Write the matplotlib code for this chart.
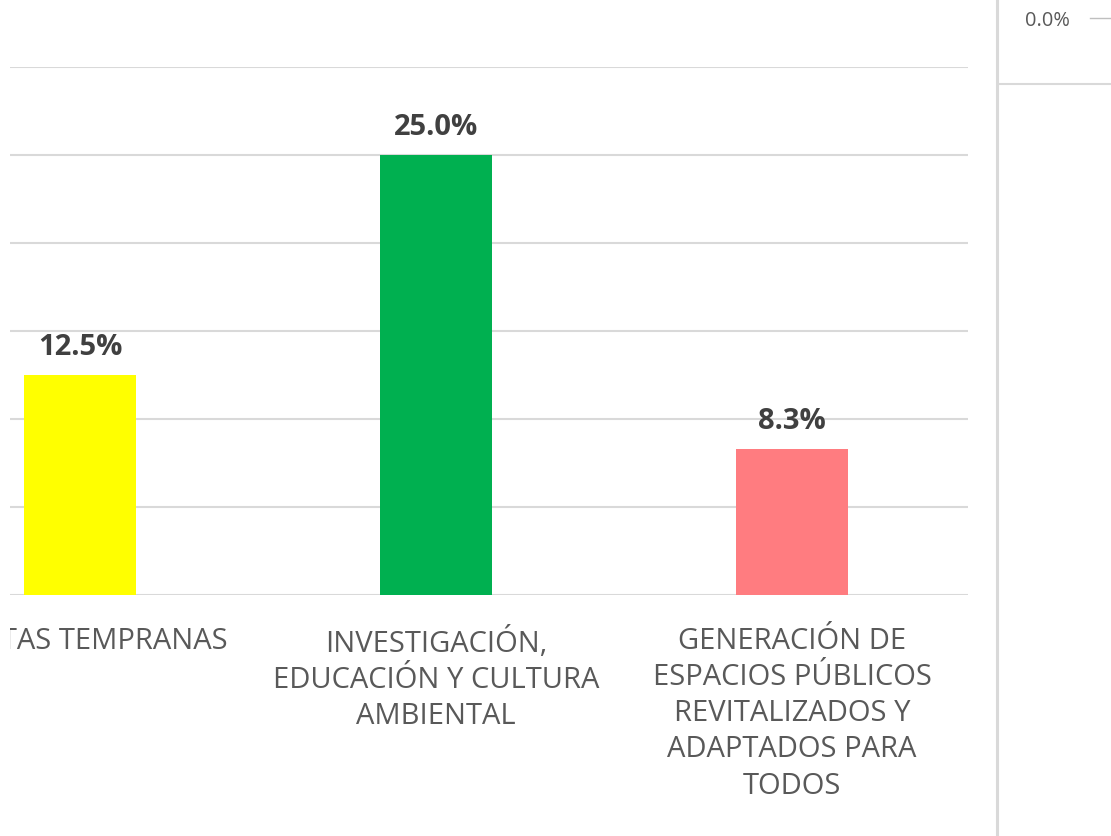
import matplotlib
matplotlib.use("Agg")
import matplotlib.pyplot as plt
from matplotlib.patches import Rectangle
from matplotlib.lines import Line2D

categories = ["ALERTAS TEMPRANAS",
              "INVESTIGACIÓN,\nEDUCACIÓN Y CULTURA\nAMBIENTAL",
              "GENERACIÓN DE\nESPACIOS PÚBLICOS\nREVITALIZADOS Y\nADAPTADOS PARA\nTODOS"]
values = [12.5, 25.0, 8.3]
bar_colors = ["#FFFF00", "#00B050", "#FF7C80"]
y_ticks = [0, 5, 10, 15, 20, 25, 30]
side_label = "0.0%"

W, H = 1111, 837
plt.rcParams["font.family"] = ["Open Sans", "DejaVu Sans"]
fig = plt.figure(figsize=(W / 100, H / 100), dpi=100)

def fx(px):
    return px / W

def fy(py):
    return 1 - py / H

# main plot area
left_px, right_px, top_px, base_px = 10, 968, 68, 596
ax = fig.add_axes([fx(left_px), fy(base_px), fx(right_px - left_px), (base_px - top_px) / H])
cat_w = 356.0
x0 = -(80 - left_px) / cat_w
x1 = 2 + (right_px - 792) / cat_w
ax.set_xlim(x0, x1)
ax.set_ylim(0, 30)
positions = list(range(len(values)))
ax.bar(positions, values, width=112 / cat_w, color=bar_colors, zorder=3)
for s in ax.spines.values():
    s.set_visible(False)
ax.set_yticks(y_ticks)
ax.yaxis.grid(True, color="#D9D9D9", linewidth=1.5, zorder=0)
ax.tick_params(left=False, bottom=False, labelleft=False, labelbottom=False)

for x, v in zip(positions, values):
    ax.annotate(f"{v:.1f}%", (x, v), xytext=(0, 15), textcoords="offset points",
                ha="center", va="baseline", fontsize=21, fontweight="bold",
                color="#404040")

for x, lab in zip(positions, categories):
    ax.annotate(lab, (x, 0), xycoords=("data", "data"), xytext=(0, -22),
                textcoords="offset points", ha="center", va="top",
                fontsize=21, color="#595959", linespacing=1.33,
                annotation_clip=False)

# white margin on the left edge
fig.patches.append(Rectangle((0, 0), fx(left_px), 1, transform=fig.transFigure,
                             facecolor="white", edgecolor="none", zorder=10))

# neighbouring panel on the right
fig.add_artist(Line2D([fx(997), fx(997)], [0, 1], color="#D9D9D9", linewidth=2.2))
fig.add_artist(Line2D([fx(998), 1], [fy(85), fy(85)], color="#D9D9D9", linewidth=1.5))
fig.add_artist(Line2D([fx(1090), 1], [fy(19), fy(19)], color="#BFBFBF", linewidth=1.0))
fig.text(fx(1047), fy(21), side_label, ha="center", va="center", fontsize=14.4,
         color="#595959")

fig.savefig("out.png", dpi=100, facecolor="white")
